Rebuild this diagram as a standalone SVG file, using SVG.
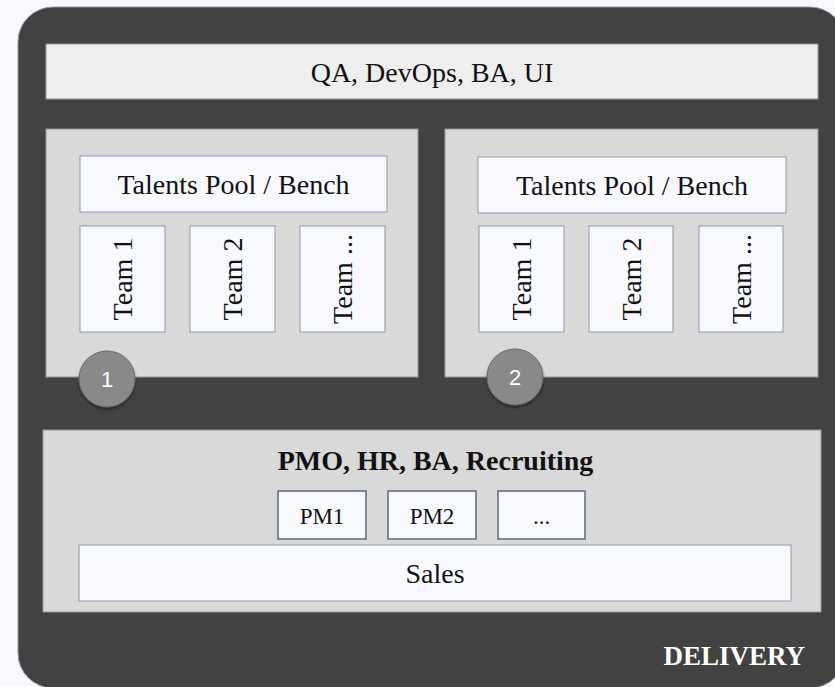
<svg xmlns="http://www.w3.org/2000/svg" width="835" height="687" viewBox="0 0 835 687">
  <defs>
    <filter id="shadow" x="-30%" y="-30%" width="160%" height="170%">
      <feDropShadow dx="0" dy="2" stdDeviation="1.5" flood-color="#000" flood-opacity="0.45"/>
    </filter>
  </defs>
  <style>
    .frame { fill: #424242; stroke: #8a96a4; stroke-width: 1; }
    .bar { fill: #eeeeee; stroke: #8e99a6; stroke-width: 1; }
    .panel { fill: #d9d9d9; stroke: #8e99a6; stroke-width: 1; }
    .box { fill: #f8f9fe; stroke: #8e99a6; stroke-width: 1; }
    .pm { fill: #f8f9fe; stroke: #5c6b7a; stroke-width: 1.5; }
    .badge { fill: #898989; stroke: #5f6b78; stroke-width: 1; }
    .t { font-family: "Liberation Serif", "Times New Roman", serif; font-size: 28px; fill: #111; text-anchor: middle; }
    .tb { font-weight: bold; }
    .small { font-size: 23px; }
    .num { font-family: "Liberation Sans", Arial, sans-serif; font-size: 22px; fill: #ffffff; text-anchor: middle; }
    .label { font-family: "Liberation Serif", "Times New Roman", serif; font-size: 27px; font-weight: bold; fill: #ffffff; text-anchor: end; }
  </style>

  <rect width="835" height="687" fill="#f8f9fe"/>

  <!-- Outer delivery frame -->
  <g id="delivery">
    <rect class="frame" x="18" y="7" width="827" height="681" rx="35" ry="35"/>
    <text class="label" x="805" y="665">DELIVERY</text>
  </g>

  <!-- Shared services bar -->
  <g id="shared-services">
    <rect class="bar" x="46" y="44" width="772" height="55"/>
    <text class="t" x="432" y="82">QA, DevOps, BA, UI</text>
  </g>

  <!-- Delivery unit 1 -->
  <g id="unit-1">
    <rect class="panel" x="46" y="129" width="372" height="248"/>
    <g id="unit-1-bench">
      <rect class="box" x="80" y="156" width="307" height="56"/>
      <text class="t" x="233.5" y="194">Talents Pool / Bench</text>
    </g>
    <g id="unit-1-team-1">
      <rect class="box" x="80" y="226" width="85" height="106"/>
      <text class="t" transform="translate(132 279) rotate(-90)">Team 1</text>
    </g>
    <g id="unit-1-team-2">
      <rect class="box" x="190" y="226" width="85" height="106"/>
      <text class="t" transform="translate(242 279) rotate(-90)">Team 2</text>
    </g>
    <g id="unit-1-team-more">
      <rect class="box" x="300" y="226" width="85" height="106"/>
      <text class="t" transform="translate(352 279) rotate(-90)">Team ...</text>
    </g>
    <g id="badge-1">
      <circle class="badge" cx="107" cy="379" r="28" filter="url(#shadow)"/>
      <text class="num" x="107" y="387">1</text>
    </g>
  </g>

  <!-- Delivery unit 2 -->
  <g id="unit-2">
    <rect class="panel" x="445" y="129" width="373" height="248"/>
    <g id="unit-2-bench">
      <rect class="box" x="478" y="157" width="308" height="56"/>
      <text class="t" x="632" y="195">Talents Pool / Bench</text>
    </g>
    <g id="unit-2-team-1">
      <rect class="box" x="479" y="226" width="85" height="106"/>
      <text class="t" transform="translate(531 279) rotate(-90)">Team 1</text>
    </g>
    <g id="unit-2-team-2">
      <rect class="box" x="589" y="226" width="84" height="106"/>
      <text class="t" transform="translate(640.5 279) rotate(-90)">Team 2</text>
    </g>
    <g id="unit-2-team-more">
      <rect class="box" x="699" y="226" width="84" height="106"/>
      <text class="t" transform="translate(750.5 279) rotate(-90)">Team ...</text>
    </g>
    <g id="badge-2">
      <circle class="badge" cx="515" cy="377" r="28" filter="url(#shadow)"/>
      <text class="num" x="515" y="385">2</text>
    </g>
  </g>

  <!-- Management layer -->
  <g id="management">
    <rect class="panel" x="43" y="430" width="778" height="182"/>
    <text class="t tb" x="435.5" y="470">PMO, HR, BA, Recruiting</text>
    <g id="pm-1">
      <rect class="pm" x="278" y="491" width="88" height="48"/>
      <text class="t small" x="322" y="524">PM1</text>
    </g>
    <g id="pm-2">
      <rect class="pm" x="388" y="491" width="88" height="48"/>
      <text class="t small" x="432" y="524">PM2</text>
    </g>
    <g id="pm-more">
      <rect class="pm" x="498" y="491" width="87" height="48"/>
      <text class="t small" x="541.5" y="524">...</text>
    </g>
    <g id="sales">
      <rect class="box" x="79" y="545" width="712" height="56"/>
      <text class="t" x="435" y="583">Sales</text>
    </g>
  </g>

  <!-- No connectors are drawn in this layout -->
  <g id="connectors"/>
</svg>
